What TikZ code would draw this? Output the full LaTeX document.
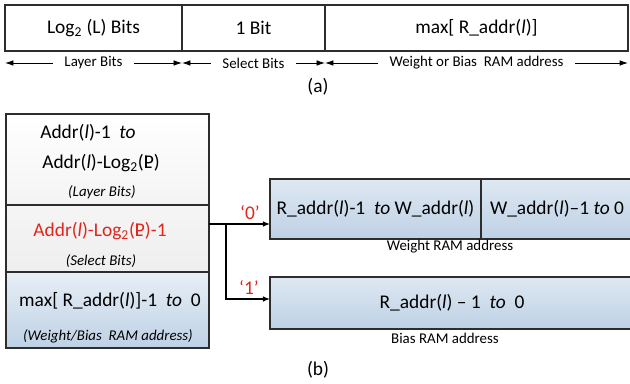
\documentclass[tikz,border=0pt]{standalone}
\usepackage{fontspec}
\setmainfont{Carlito}
\usepackage{xcolor}
\usepackage{tikz}
\usetikzlibrary{positioning,%
  arrows.meta,%
  calc,%
  shapes
}
\definecolor{boxline}{RGB}{45,45,45}
\definecolor{selred}{RGB}{222,38,28}
\definecolor{ramtop}{RGB}{222,232,242}
\definecolor{rambot}{RGB}{190,209,229}
\newcommand\LP{\rlap{L}P}

\tikzset{
  field/.style={draw=boxline, line width=0.9pt, fill=white, inner sep=0pt, outer sep=0pt,
    anchor=north west, font=\fontsize{13.8}{16}\selectfont},
  ramfield/.style={field, top color=ramtop, bottom color=rambot},
  maintext/.style={font=\fontsize{13.8}{16}\selectfont},
  smalltext/.style={font=\fontsize{10.6}{12}\selectfont},
  ittext/.style={font=\fontsize{10.6}{12}\itshape},
  dimline/.style={{Latex[length=6pt,width=4pt]}-{Latex[length=6pt,width=4pt]}, line width=0.6pt},
  dimlabel/.style={smalltext, fill=white, inner xsep=8pt},
  selarrow/.style={-{Latex[length=5pt,width=4pt]}, line width=0.9pt}
}

\begin{document}
\begin{tikzpicture}[x=0.25mm, y=-0.25mm]
  \useasboundingbox (0,0) rectangle (630,384);

  % (a) address word
  \node[field, minimum width=44.25mm, minimum height=11.5mm] (lay) at (5,5) {Log\textsubscript{2} (L) Bits};
  \node[field, minimum width=35.75mm, minimum height=11.5mm] (sel) at (lay.north east) {1 Bit};
  \node[field, minimum width=75.75mm, minimum height=11.5mm] (ram) at (sel.north east) {max[ R\_addr(\textit{l})]};

  \draw[dimline] ([yshift=-3mm]lay.south west) -- node[dimlabel] {Layer Bits} ([yshift=-3mm]lay.south east);
  \draw[dimline] ([yshift=-3mm]sel.south west) -- node[dimlabel] {Select Bits} ([yshift=-3mm]sel.south east);
  \draw[dimline] ([yshift=-3mm]ram.south west) -- node[dimlabel] {Weight or Bias\ \ RAM address} ([yshift=-3mm]ram.south east);

  \node[maintext] (capa) at (318,87) {(a)};

  % (b) address decoding
  \node[field, top color=white, bottom color=gray!9, minimum width=50.75mm, minimum height=22.75mm] (lbits) at (6,114) {};
  \node[field, top color=gray!8, bottom color=gray!13, minimum width=50.75mm, minimum height=16.75mm] (sbits) at (lbits.south west) {};
  \node[field, top color=ramtop!70!white, bottom color=rambot, minimum width=50.75mm, minimum height=19mm] (rbits) at (sbits.south west) {};

  \node[maintext] (lbitsa) at (88,133) {Addr(\textit{l})-1\ \ \textit{to}};
  \node[maintext] (lbitsb) at (101,163) {Addr(\textit{l})-Log\textsubscript{2}(\LP)};
  \node[ittext] (lbitsc) at (102,192) {(Layer Bits)};
  \node[maintext, text=selred] (sbitsa) at (100,231) {Addr(\textit{l})-Log\textsubscript{2}(\LP)-1};
  \node[ittext] (sbitsb) at (101,261) {(Select Bits)};
  \node[maintext] (rbitsa) at (110,301) {max[ R\_addr(\textit{l})]-1\ \ \textit{to}\ \ 0};
  \node[ittext] (rbitsb) at (108,336) {(Weight/Bias\ \ RAM address)};

  \node[ramfield, minimum width=52.75mm, minimum height=15mm] (wram) at (270,179) {R\_addr(\textit{l})-1\ \ \textit{to} W\_addr(\textit{l})};
  \node[ramfield, minimum width=38mm, minimum height=15mm] (wlow) at (wram.north east) {W\_addr(\textit{l})--1 \textit{to} 0};
  \node[smalltext] (wlabel) at (450,247) {Weight RAM address};

  \node[ramfield, minimum width=91mm, minimum height=13mm] (bram) at (270,277) {R\_addr(\textit{l}) -- 1\ \ \textit{to}\ \ 0};
  \node[smalltext] (blabel) at (445,338) {Bias RAM address};

  \coordinate (split) at (226,224);
  \coordinate (bsplit) at (226,299);
  \draw[selarrow] (sbits.east |- split) -- (wram.west |- split);
  \draw[selarrow] (split) -- (bsplit) -- (bram.west |- bsplit);
  \node[maintext, text=selred] (zero) at (250,213) {‘0’};
  \node[maintext, text=selred] (one) at (249,288) {‘1’};

  \node[maintext] (capb) at (318,370) {(b)};
\end{tikzpicture}
\end{document}
